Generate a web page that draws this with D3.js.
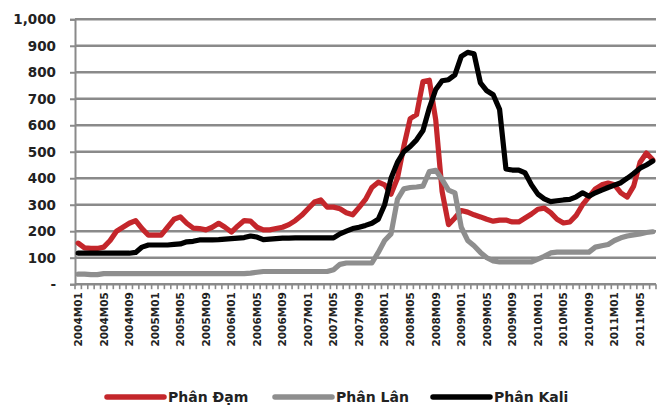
<!DOCTYPE html>
<html>
<head>
<meta charset="utf-8">
<script src="https://cdn.jsdelivr.net/npm/d3@7/dist/d3.min.js"></script>
<style>
  html, body { margin: 0; padding: 0; background: #fff; }
  svg { display: block; font-family: "DejaVu Sans", Verdana, sans-serif; }
</style>
</head>
<body>
<svg id="chart" width="664" height="416"></svg>
<script>
// Monthly categories 2004M01 .. 2011M07
const months = [];
for (let yr = 2004; yr <= 2011; yr++) {
  for (let m = 1; m <= 12; m++) {
    if (yr === 2011 && m > 7) break;
    months.push(yr + "M" + String(m).padStart(2, "0"));
  }
}

// Phân Đạm (nitrogen fertilizer)
const damValues = [
  155, 137, 135, 135, 140, 165, 200, 215, 230, 240, 210, 185,
  185, 185, 215, 245, 254, 230, 212, 210, 205, 215, 230, 215,
  197, 220, 240, 238, 215, 205, 205, 210, 215, 225, 240, 260,
  285, 310, 318, 291, 291, 285, 270, 262, 290, 320, 365, 385,
  375, 340, 400, 520, 625, 640, 765, 770, 620, 350, 225, 250,
  278, 272, 262, 254, 245, 238, 242, 242, 235, 235, 250, 265,
  283, 287, 270, 245, 231, 235, 260, 300, 330, 360, 375, 382,
  375, 345, 329, 370, 460, 495, 470
];

// Phân Lân (phosphate fertilizer)
const lanValues = [
  38, 38, 36, 36, 40, 40, 40, 40, 40, 40, 40, 40,
  40, 40, 40, 40, 40, 40, 40, 40, 40, 40, 40, 40,
  40, 40, 40, 42, 45, 48, 48, 48, 48, 48, 48, 48,
  48, 48, 48, 48, 55, 75, 80, 80, 80, 80, 80, 120,
  165, 190, 320, 360, 365, 367, 370, 425, 430, 395, 355, 345,
  215, 165, 145, 120, 100, 88, 84, 84, 84, 84, 84, 84,
  95, 105, 118, 121, 121, 121, 121, 121, 121, 140, 145, 150,
  165, 175, 182, 186, 190, 195, 198
];

// Phân Kali (potash fertilizer)
const kaliValues = [
  117, 117, 117, 117, 117, 117, 117, 117, 117, 120, 140, 148,
  148, 148, 148, 150, 152, 160, 162, 167, 167, 167, 168, 170,
  172, 174, 176, 182, 178, 168, 170, 172, 174, 174, 175, 175,
  175, 175, 175, 175, 175, 190, 200, 210, 215, 222, 230, 245,
  300, 400, 460, 500, 520, 545, 580, 665, 735, 768, 772, 790,
  860, 875, 870, 760, 730, 715, 660, 435, 431, 431, 420, 375,
  340, 322, 312, 315, 318, 320, 330, 345, 332, 345, 355, 365,
  374, 383, 400, 418, 438, 450, 465
];

const yTicks = [0, 100, 200, 300, 400, 500, 600, 700, 800, 900, 1000];
const yTickLabels = ["-", "100", "200", "300", "400", "500", "600", "700", "800", "900", "1,000"];

const series = [
  { name: "Phân Đạm", values: damValues, color: "#c4262b" },
  { name: "Phân Lân", values: lanValues, color: "#8e8e8e" },
  { name: "Phân Kali", values: kaliValues, color: "#000000" }
];

const svg = d3.select("#chart");
const plotLeft = 75, plotRight = 656, plotTop = 19.3, plotBottom = 284.2;

const x = d3.scaleBand().domain(months).range([plotLeft, plotRight]).paddingInner(0).paddingOuter(0);
const y = d3.scaleLinear().domain([0, 1000]).range([plotBottom, plotTop]);
const cx = d => x(d) + x.bandwidth() / 2;

const gridColor = "#8a8a8a";

// horizontal gridlines
svg.append("g")
  .selectAll("line")
  .data(yTicks.filter(t => t > 0))
  .join("line")
  .attr("x1", plotLeft).attr("x2", plotRight)
  .attr("y1", d => y(d)).attr("y2", d => y(d))
  .attr("stroke", gridColor)
  .attr("stroke-width", 2.6);

// y axis
const yAxis = d3.axisLeft(y)
  .tickValues(yTicks)
  .tickSize(5)
  .tickPadding(14)
  .tickFormat((d, i) => yTickLabels[i]);
const gy = svg.append("g").attr("transform", `translate(${plotLeft},0)`).call(yAxis);
gy.select(".domain").attr("stroke", gridColor).attr("stroke-width", 2);
gy.selectAll(".tick line").attr("stroke", gridColor).attr("stroke-width", 2);
gy.selectAll(".tick text")
  .attr("font-family", "DejaVu Sans, sans-serif")
  .attr("font-size", 13.5)
  .attr("font-weight", "bold")
  .attr("fill", "#222");

// x axis with a tick at every month boundary
const gx = svg.append("g").attr("transform", `translate(0,${plotBottom})`);
gx.append("line")
  .attr("x1", plotLeft).attr("x2", plotRight)
  .attr("stroke", gridColor).attr("stroke-width", 2.4);
gx.selectAll("line.mtick")
  .data(months.concat(["end"]))
  .join("line")
  .attr("class", "mtick")
  .attr("x1", (d, i) => plotLeft + i * x.bandwidth())
  .attr("x2", (d, i) => plotLeft + i * x.bandwidth())
  .attr("y1", 0).attr("y2", 5)
  .attr("stroke", gridColor).attr("stroke-width", 1.6);

const xLabels = months.filter((d, i) => i % 4 === 0);
gx.selectAll("text")
  .data(xLabels)
  .join("text")
  .attr("transform", d => `translate(${cx(d) + 3.8},8) rotate(-90)`)
  .attr("text-anchor", "end")
  .attr("font-family", "DejaVu Sans, sans-serif")
  .attr("font-size", 10.5)
  .attr("font-weight", "bold")
  .attr("fill", "#222")
  .text(d => d);

// series lines
const line = d3.line()
  .x((d, i) => cx(months[i]))
  .y(d => y(d));

svg.append("g")
  .selectAll("path")
  .data(series)
  .join("path")
  .attr("d", s => line(s.values))
  .attr("fill", "none")
  .attr("stroke", s => s.color)
  .attr("stroke-width", 5.2)
  .attr("stroke-linejoin", "round")
  .attr("stroke-linecap", "round");

// legend
const legendX = [107, 275, 433];
const legend = svg.append("g").selectAll("g")
  .data(series)
  .join("g")
  .attr("transform", (d, i) => `translate(${legendX[i]},397)`);
legend.append("line")
  .attr("x1", 0).attr("x2", 57)
  .attr("stroke", d => d.color)
  .attr("stroke-width", 5.5)
  .attr("stroke-linecap", "round");
legend.append("text")
  .attr("x", 61).attr("y", 5)
  .attr("font-family", "DejaVu Sans, sans-serif")
  .attr("font-size", 14)
  .attr("font-weight", "bold")
  .attr("fill", "#222")
  .text(d => d.name);
</script>
</body>
</html>
